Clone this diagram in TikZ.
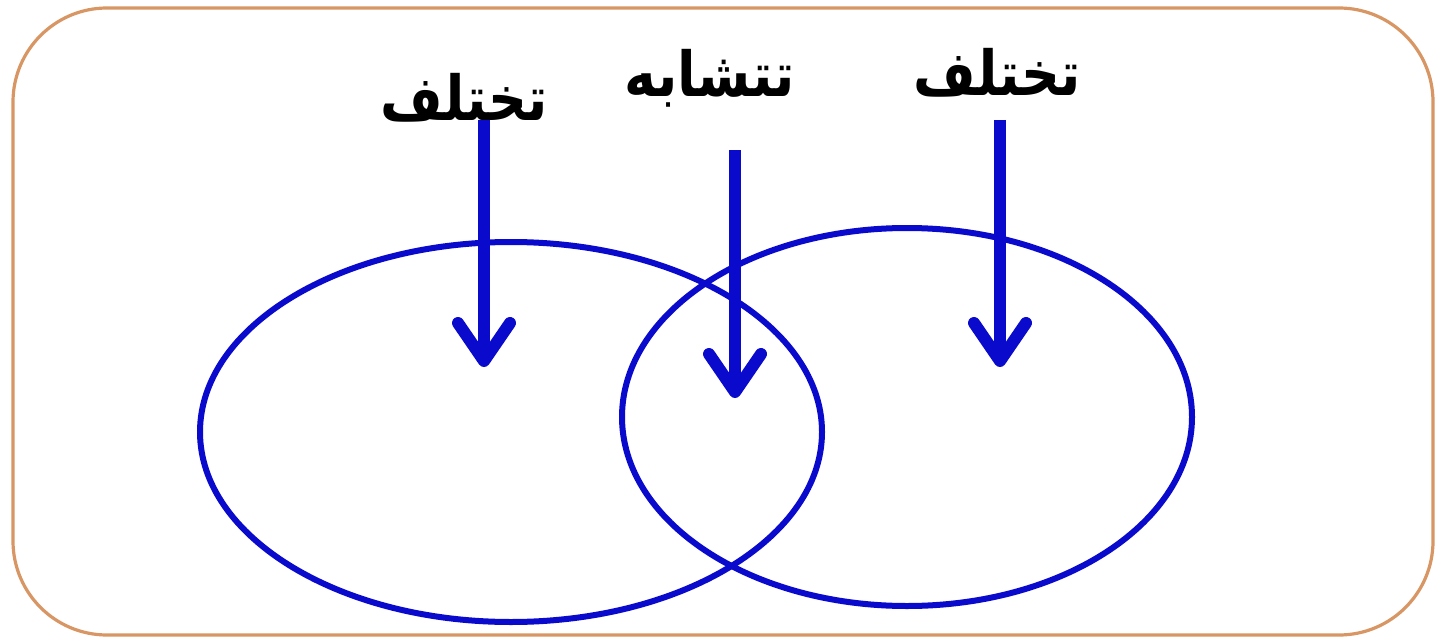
\documentclass[tikz,border=0pt]{standalone}
\usepackage{fontspec}
\TeXXeTstate=1
\newfontfamily\arabicfont[Script=Arabic]{DejaVu Sans}
\usetikzlibrary{arrows.meta}
\definecolor{vblue}{RGB}{10,10,205}
\definecolor{frameorange}{RGB}{215,150,100}
\tikzset{
  vennset/.style={draw=vblue, line width=3pt},
  pointer/.style={draw=vblue, line width=6pt,
    -{Straight Barb[length=19pt, width=26pt, line cap=round, line join=round]}},
  arlabel/.style={font=\arabicfont\bfseries\fontsize{27}{32}\selectfont, inner sep=0pt, yscale=1.15}
}
\begin{document}
\begin{tikzpicture}[x=0.5pt,y=-0.5pt]
\useasboundingbox (0,0) rectangle (1445,642);
\draw[frameorange, line width=1.6pt, rounded corners=47pt] (13,8) rectangle (1433,635);
\draw[vennset] (511,432) ellipse [x radius=311, y radius=190];
\draw[vennset] (907,417) ellipse [x radius=285, y radius=189];
\node[arlabel] (tl) at (464,98) {\beginR تختلف\endR};
\node[arlabel] (tm) at (710,78) {\beginR تتشابه\endR};
\node[arlabel] (tr) at (997,73) {\beginR تختلف\endR};
\coordinate (sl) at (484,120);
\coordinate (el) at (484,367);
\coordinate (sm) at (735,150);
\coordinate (em) at (735,398);
\coordinate (sr) at (1000,120);
\coordinate (er) at (1000,367);
\draw[pointer] (sl) -- (el);
\draw[pointer] (sm) -- (em);
\draw[pointer] (sr) -- (er);
\end{tikzpicture}
\end{document}
